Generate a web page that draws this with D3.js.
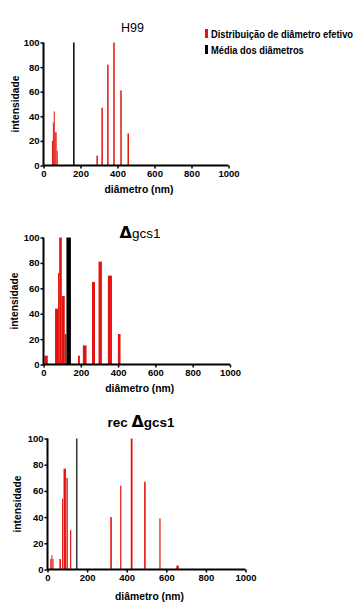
<!DOCTYPE html>
<html><head><meta charset="utf-8">
<script src="https://cdn.jsdelivr.net/npm/d3@7"></script>
<style>
html,body{margin:0;padding:0;background:#fff;}
text{font-family:"Liberation Sans",Arial,sans-serif;}
</style></head>
<body><svg id="c" width="360" height="613"></svg>
<script>
// ---- data ----
const xTicks = [0,200,400,600,800,1000];
const yTicks = [0,20,40,60,80,100];
const legendLabels = ["Distribuição de diâmetro efetivo","Média dos diâmetros"];
const titles = ["H99","gcs1","gcs1"];
const titlePrefix = ["","","rec "];
const titleDelta = [false,true,true];

// H99
const h99RedDiam = [48,53,58,63,68,74,290,317,348,381,419,458];
const h99RedWidth = [5,5,5,5,5,5,8,8,8,8,8,8];
const h99RedInt = [20,35,44,27,27,12,8,47,82,100,61,26];
const h99MeanDiam = [164];
const h99MeanWidth = [8];
const h99MeanInt = [100];

// Δgcs1
const gcsRedDiam = [14,70,81,91,106,118,190,221,268,304,356,406];
const gcsRedWidth = [18,16,6,14,16,9,10,20,16,18,22,14];
const gcsRedInt = [7,44,72,100,54,24,7,15,65,81,70,24];
const gcsMeanDiam = [135];
const gcsMeanWidth = [24];
const gcsMeanInt = [100];

// rec Δgcs1
const recRedDiam = [17,22,28,64,76,87,99,117,321,370,425,492,568,657];
const recRedWidth = [6,4,5,8,5,12,7,6,8,6,9,8,6,12];
const recRedInt = [8,11,8,8,54,77,70,30,40,64,100,67,39,3];
const recMeanDiam = [148];
const recMeanWidth = [6];
const recMeanInt = [100];

const panels = [
 {red:[h99RedDiam,h99RedWidth,h99RedInt], mean:[h99MeanDiam,h99MeanWidth,h99MeanInt],
  x0:43.5, x1:228.5, yTop:42.5, yBot:165.5, tx:132.5, ty:32, ylx:19, xlb:193, legend:true},
 {red:[gcsRedDiam,gcsRedWidth,gcsRedInt], mean:[gcsMeanDiam,gcsMeanWidth,gcsMeanInt],
  x0:43.5, x1:230, yTop:237.5, yBot:364.5, tx:140, ty:238, ylx:18, xlb:392, legend:false},
 {red:[recRedDiam,recRedWidth,recRedInt], mean:[recMeanDiam,recMeanWidth,recMeanInt],
  x0:47.5, x1:245.5, yTop:438.5, yBot:569.5, tx:141, ty:427, ylx:21, xlb:600, legend:false}
];

const svg = d3.select("#c");
const RED = "#e3130f";

panels.forEach((p,i)=>{
  const x = d3.scaleLinear().domain([0,1000]).range([p.x0,p.x1]);
  const y = d3.scaleLinear().domain([0,100]).range([p.yBot,p.yTop]);
  const g = svg.append("g");

  const drawBars = (arr,color)=>{
    const [d,w,v] = arr;
    g.selectAll(null).data(d.map((dd,k)=>({d:dd,w:w[k],v:v[k]}))).enter().append("rect")
      .attr("x",o=>x(o.d-o.w/2))
      .attr("width",o=>Math.max(1,x(o.d+o.w/2)-x(o.d-o.w/2)))
      .attr("y",o=>y(o.v))
      .attr("height",o=>y(0)-y(o.v))
      .attr("fill",color);
  };
  drawBars(p.red,RED);
  drawBars(p.mean,"#000");

  const xa = g.append("g").attr("transform",`translate(0,${p.yBot})`)
    .call(d3.axisBottom(x).tickValues(xTicks).tickSize(3).tickPadding(2).tickFormat(d3.format("d")));
  const ya = g.append("g").attr("transform",`translate(${p.x0},0)`)
    .call(d3.axisLeft(y).tickValues(yTicks).tickSize(3).tickPadding(1).tickFormat(d3.format("d")));
  [xa,ya].forEach(a=>{
    a.select(".domain").attr("stroke","#000").attr("stroke-width",2);
    a.selectAll(".tick line").attr("stroke","#000").attr("stroke-width",1.5);
    a.selectAll(".tick text").attr("fill","#000").attr("font-size",9.5).attr("font-weight","bold")
      .attr("font-family","'Liberation Sans',Arial,sans-serif");
  });
  xa.selectAll(".domain").attr("d",`M${p.x0},0H${p.x1}`);
  ya.selectAll(".domain").attr("d",`M0,${p.yBot}V${p.yTop}`);

  // title
  const t = g.append("text").attr("x",p.tx).attr("y",p.ty).attr("text-anchor","middle")
    .attr("font-size", i==0?12.5:13.5).attr("fill","#000");
  if(titlePrefix[i]) t.append("tspan").attr("font-weight","bold").text(titlePrefix[i]);
  if(titleDelta[i]) t.append("tspan").attr("font-weight","bold").attr("font-size",16).attr("font-family","'DejaVu Sans',sans-serif").text("Δ");
  t.append("tspan").attr("font-weight", i==2?"bold":"normal").text(titles[i]);

  // axis labels
  g.append("text").attr("x",(p.x0+p.x1)/2+3).attr("y",p.xlb).attr("text-anchor","middle")
    .attr("font-size",10.5).attr("font-weight","bold")
    .attr("textLength",69).attr("lengthAdjust","spacingAndGlyphs").text("diâmetro (nm)");
  g.append("text").attr("transform",`translate(${p.ylx},${(p.yTop+p.yBot)/2}) rotate(-90)`)
    .attr("text-anchor","middle").attr("font-size",10.5).attr("font-weight","bold")
    .attr("textLength",57).attr("lengthAdjust","spacingAndGlyphs").text("intensidade");

  if(p.legend){
    const lg = g.append("g").attr("transform","translate(205,29)");
    [RED,"#000"].forEach((c,k)=>{
      lg.append("rect").attr("x",0).attr("y",k*16).attr("width",3).attr("height",9).attr("fill",c);
      lg.append("text").attr("transform",`translate(6,${k*16+8.5}) scale(0.89,1)`)
        .attr("font-size",10.5).attr("font-weight","bold").text(legendLabels[k]);
    });
  }
});
</script></body></html>
